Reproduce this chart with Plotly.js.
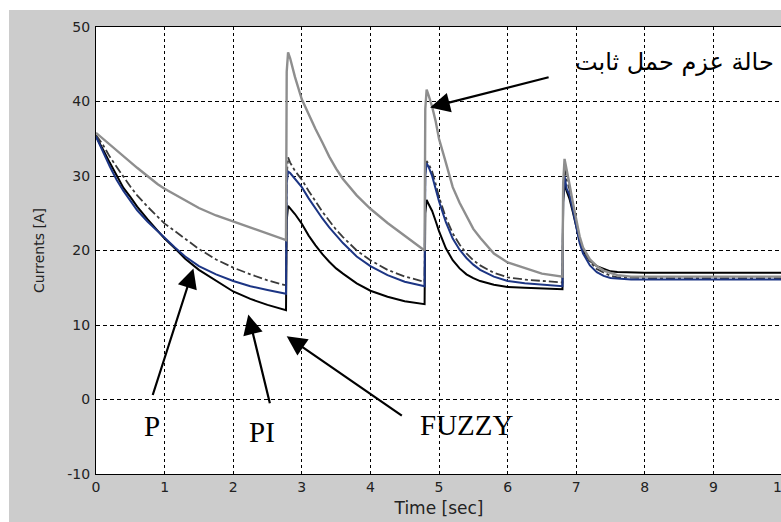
<!DOCTYPE html>
<html>
<head>
<meta charset="utf-8">
<script src="https://cdn.plot.ly/plotly-3.0.1.min.js"></script>
<style>
html,body{margin:0;padding:0;background:#ffffff;overflow:hidden;width:781px;height:522px;}
#chart{position:absolute;left:9px;top:10px;width:800px;height:512px;}
</style>
</head>
<body>
<div id="chart"></div>
<script>
// Shared time samples [sec]
var timeSec = [0, 0.05, 0.1, 0.2, 0.3, 0.4, 0.5, 0.6, 0.75, 0.9, 1.0, 1.15, 1.3, 1.5, 1.75, 2.0, 2.25, 2.5, 2.77,
  2.78, 2.80, 2.83, 2.9, 3.0, 3.1, 3.2, 3.3, 3.4, 3.5, 3.6, 3.8, 4.0, 4.25, 4.5, 4.79,
  4.80, 4.82, 4.85, 4.9, 4.95, 5.0, 5.1, 5.2, 5.3, 5.4, 5.5, 5.6, 5.8, 6.0, 6.25, 6.5, 6.80,
  6.81, 6.83, 6.86, 6.9, 6.95, 7.0, 7.05, 7.1, 7.2, 7.3, 7.4, 7.5, 7.6, 7.8, 8.0, 9.0, 10.0];

// Constant load torque case (light gray)
var currentGray = [35.8, 35.4, 35.0, 34.3, 33.5, 32.7, 31.9, 31.1, 30.0, 28.9, 28.3, 27.5, 26.7, 25.7, 24.7, 23.9, 23.1, 22.3, 21.4,
  44.0, 46.6, 45.8, 43.3, 40.3, 38.2, 36.3, 34.5, 32.6, 31.0, 29.6, 27.4, 25.6, 23.7, 22.0, 20.0,
  39.0, 41.6, 40.8, 39.3, 37.4, 35.0, 31.8, 28.5, 26.4, 24.6, 22.9, 21.7, 19.6, 18.4, 17.6, 16.9, 16.5,
  29.0, 32.3, 31.0, 29.0, 26.5, 24.2, 21.9, 20.4, 18.8, 17.9, 17.3, 17.0, 16.7, 16.5, 16.5, 16.5, 16.5];

// P controller (blue)
var currentP = [35.3, 34.3, 33.2, 31.3, 29.5, 28.0, 26.7, 25.4, 23.9, 22.5, 21.7, 20.4, 19.2, 17.9, 16.8, 15.9, 15.2, 14.7, 14.2,
  29.0, 30.6, 30.4, 29.6, 28.5, 27.0, 25.6, 24.3, 23.1, 22.0, 21.0, 19.2, 17.9, 16.7, 15.8, 15.2,
  30.0, 31.7, 31.2, 30.0, 28.4, 26.6, 23.8, 21.6, 20.1, 19.0, 18.1, 17.4, 16.5, 15.9, 15.6, 15.4, 15.2,
  27.0, 30.0, 28.3, 27.5, 25.5, 23.3, 21.0, 19.6, 18.0, 17.1, 16.6, 16.3, 16.2, 16.1, 16.1, 16.1, 16.1];

// PI controller (black)
var currentPI = [35.3, 34.5, 33.6, 31.8, 30.0, 28.4, 27.2, 25.9, 24.2, 22.6, 21.6, 20.3, 18.9, 17.4, 15.9, 14.5, 13.5, 12.7, 12.0,
  24.0, 26.0, 25.7, 24.9, 23.6, 22.0, 20.7, 19.5, 18.5, 17.6, 16.9, 15.6, 14.6, 13.8, 13.2, 12.8,
  25.0, 26.8, 26.2, 25.3, 24.0, 22.6, 20.3, 18.7, 17.6, 16.8, 16.3, 15.9, 15.4, 15.1, 15.0, 14.9, 14.8,
  26.5, 29.0, 28.0, 27.0, 25.2, 23.3, 21.3, 20.0, 18.6, 17.9, 17.5, 17.2, 17.1, 17.0, 17.0, 17.0, 17.0];

// FUZZY controller (dark dash-dot)
var currentFuzzy = [35.5, 34.9, 34.2, 32.6, 31.2, 29.9, 28.6, 27.4, 25.9, 24.5, 23.6, 22.6, 21.6, 20.2, 18.8, 17.7, 16.8, 16.0, 15.3,
  30.0, 32.5, 31.8, 30.7, 29.5, 28.0, 26.6, 25.2, 24.0, 22.8, 21.8, 20.0, 18.7, 17.4, 16.5, 15.8,
  30.5, 32.0, 31.6, 30.6, 29.0, 27.2, 24.4, 22.3, 20.8, 19.6, 18.7, 18.0, 17.0, 16.4, 16.1, 15.9, 15.7,
  28.0, 31.0, 29.5, 28.3, 26.0, 23.8, 21.5, 20.0, 18.5, 17.5, 17.0, 16.6, 16.4, 16.3, 16.3, 16.3, 16.3];

var xTicks = [0, 1, 2, 3, 4, 5, 6, 7, 8, 9, 10];
var yTicks = [-10, 0, 10, 20, 30, 40, 50];

var traces = [
  {x: timeSec, y: currentPI, type: 'scatter', mode: 'lines', name: 'PI',
   line: {color: '#000000', width: 2}},
  {x: timeSec, y: currentFuzzy, type: 'scatter', mode: 'lines', name: 'FUZZY',
   line: {color: '#3a3a3a', width: 1.8, dash: 'dashdot'}},
  {x: timeSec, y: currentP, type: 'scatter', mode: 'lines', name: 'P',
   line: {color: '#1c3584', width: 2}},
  {x: timeSec, y: currentGray, type: 'scatter', mode: 'lines', name: 'Load',
   line: {color: '#8e8e8e', width: 2.4}}
];

var sansFam = 'DejaVu Sans, Verdana, sans-serif';
var tickFont = {family: sansFam, size: 14, color: '#222'};
var serif = {family: 'Liberation Serif, Times New Roman, serif', size: 29, color: '#000'};

function arrow(tx, ty, ax, ay) {
  return {x: tx, y: ty, ax: ax, ay: ay, xref: 'x', yref: 'y', axref: 'x', ayref: 'y',
    text: '', showarrow: true, arrowhead: 2, arrowsize: 1.8, arrowwidth: 2.2,
    arrowcolor: '#000', standoff: 0};
}

var layout = {
  width: 800, height: 512,
  margin: {l: 87, r: 27, t: 17, b: 48, pad: 0},
  paper_bgcolor: '#cccccc',
  plot_bgcolor: '#ffffff',
  showlegend: false,
  xaxis: {
    range: [0, 10], tickvals: xTicks, ticktext: xTicks.map(String),
    showgrid: true, gridcolor: '#000', gridwidth: 1, griddash: '3px,3px',
    zeroline: false, showline: true, linecolor: '#000', linewidth: 1, mirror: true,
    ticks: '', tickfont: tickFont,
    title: {text: 'Time [sec]', font: {family: sansFam, size: 17, color: '#222'}, standoff: 8}
  },
  yaxis: {
    range: [-10, 50], tickvals: yTicks, ticktext: yTicks.map(String),
    showgrid: true, gridcolor: '#000', gridwidth: 1, griddash: '4px,3px',
    zeroline: false, showline: true, linecolor: '#000', linewidth: 1, mirror: true,
    ticks: '', tickfont: tickFont, ticklabelstandoff: 2,
    title: {text: 'Currents [A]', font: {family: sansFam, size: 14, color: '#222'}, standoff: 19}
  },
  annotations: [
    {x: 0.82, y: -3.5, xref: 'x', yref: 'y', text: 'P', showarrow: false, font: serif},
    {x: 2.42, y: -4.3, xref: 'x', yref: 'y', text: 'PI', showarrow: false, font: serif},
    {x: 5.41, y: -3.4, xref: 'x', yref: 'y', text: 'FUZZY', showarrow: false, font: serif},
    {x: 8.43, y: 45.3, xref: 'x', yref: 'y', text: 'حالة عزم حمل ثابت', showarrow: false,
     font: {family: 'DejaVu Sans, sans-serif', size: 24, color: '#000'}},
    arrow(1.42, 17.6, 0.82, 0.4),
    arrow(2.22, 11.4, 2.54, -0.7),
    arrow(2.78, 8.5, 4.48, -2.3),
    arrow(4.87, 39.2, 6.62, 43.3)
  ]
};

Plotly.newPlot('chart', traces, layout, {displayModeBar: false, staticPlot: true});
</script>
</body>
</html>
